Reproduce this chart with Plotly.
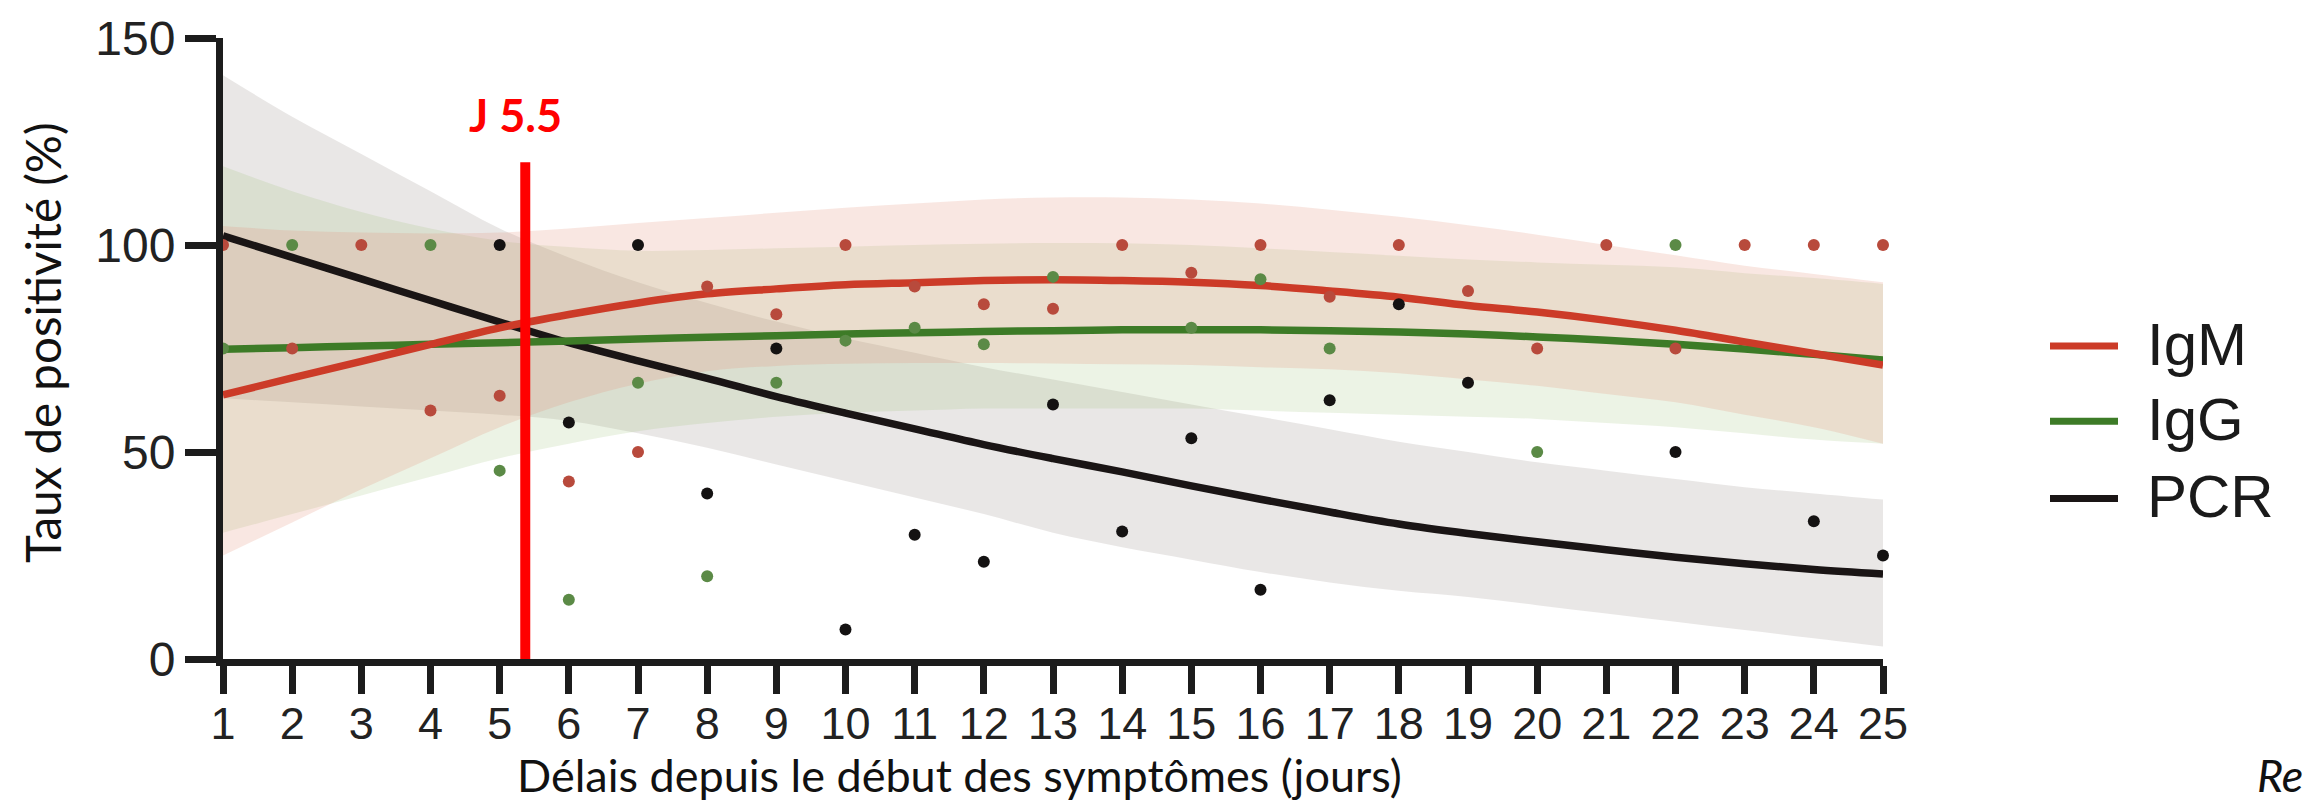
import plotly.graph_objects as go

# ---------------- data ----------------
days = list(range(1, 26))

# fitted curves read at each day
igm_fit = [63.8, 67.9, 71.9, 76.0, 80.0, 83.2, 86.0, 88.2, 89.4, 90.4, 90.9, 91.4, 91.6,
           91.4, 91.0, 90.2, 88.9, 87.4, 85.4, 83.8, 81.8, 79.4, 76.6, 73.8, 71.0]
igg_fit = [74.8, 75.2, 75.6, 76.0, 76.4, 76.8, 77.3, 77.7, 78.1, 78.5, 78.8, 79.1, 79.3,
           79.5, 79.5, 79.5, 79.3, 79.0, 78.5, 77.8, 77.0, 76.0, 74.9, 73.6, 72.2]
pcr_fit = [102.2, 97.0, 91.8, 86.6, 81.4, 76.4, 72.0, 67.8, 63.4, 59.4, 55.6, 51.8, 48.4,
           45.2, 41.8, 38.6, 35.5, 32.6, 30.3, 28.3, 26.4, 24.6, 23.0, 21.6, 20.5]

# confidence bands
igm_up = [104.6, 103.5, 103.0, 102.8, 103.0, 104.0, 105.3, 106.5, 107.8, 109.0, 110.0, 111.0, 111.5,
          111.5, 111.0, 110.0, 108.5, 106.8, 104.8, 102.5, 100.0, 97.5, 95.0, 93.0, 91.0]
igm_lo = [25.0, 33.0, 41.0, 48.5, 56.0, 62.0, 66.5, 69.5, 70.8, 71.3, 71.5, 71.5, 71.4,
          71.2, 71.0, 70.5, 70.0, 69.0, 67.5, 66.0, 64.0, 62.0, 59.0, 56.0, 52.0]
igg_up = [119.0, 113.0, 108.0, 104.0, 101.0, 99.5, 98.6, 98.8, 99.2, 99.6, 100.0, 100.3, 100.5,
          100.4, 100.0, 99.2, 98.3, 97.4, 96.5, 95.8, 95.2, 94.6, 93.2, 92.0, 90.6]
igg_lo = [30.5, 35.0, 39.5, 44.0, 48.5, 52.0, 55.0, 57.0, 58.5, 59.5, 60.0, 60.5, 60.5,
          60.5, 60.5, 60.0, 59.5, 59.0, 58.5, 58.0, 57.0, 56.0, 54.5, 53.0, 52.0]
pcr_up = [141.0, 131.0, 122.0, 113.0, 104.0, 97.0, 91.0, 86.0, 81.5, 77.5, 74.0, 70.5, 67.5,
          64.5, 61.5, 58.5, 55.5, 52.5, 50.0, 47.5, 45.5, 43.5, 41.5, 40.0, 38.5]
pcr_lo = [63.0, 62.0, 61.0, 60.0, 59.0, 57.5, 54.5, 51.0, 47.0, 43.0, 39.0, 35.0, 30.5,
          27.0, 24.0, 21.0, 18.5, 16.5, 15.0, 13.0, 11.0, 9.0, 7.0, 5.0, 3.0]

# observed points
igm_days = [1, 2, 3, 4, 5, 6, 7, 8, 9, 10, 11, 12, 13, 14, 15, 16, 17, 18, 19, 20, 21, 22, 23, 24, 25]
igm_vals = [100, 75, 100, 60, 63.6, 42.9, 50, 90, 83.3, 100, 90, 85.7, 84.6, 100, 93.3, 100,
            87.5, 100, 88.9, 75, 100, 75, 100, 100, 100]
igg_days = [1, 2, 4, 5, 6, 7, 8, 9, 10, 11, 12, 13, 15, 16, 17, 20, 22]
igg_vals = [75, 100, 100, 45.5, 14.3, 66.7, 20, 66.7, 76.9, 80, 76, 92.3, 80, 91.7, 75, 50, 100]
pcr_days = [5, 6, 7, 8, 9, 10, 11, 12, 13, 14, 15, 16, 17, 18, 19, 22, 24, 25]
pcr_vals = [100, 57.1, 100, 40, 75, 7.1, 30, 23.5, 61.5, 30.8, 53.3, 16.7, 62.5, 85.7, 66.7,
            50, 33.3, 25]

series_names = ["IgM", "IgG", "PCR"]
x_ticks = list(range(1, 26))
y_ticks = [0, 50, 100, 150]

marker_day = 5.37      # red vertical marker
marker_top = 120
marker_label = "J 5.5"

# ---------------- styles ----------------
C_LINE = {"IgM": "#cc3b28", "IgG": "#3d7b27", "PCR": "#1a1515"}
C_DOT = {"IgM": "#b84a3c", "IgG": "#5b8a46", "PCR": "#141212"}
C_BAND = {"IgM": "rgba(228,140,118,0.21)", "IgG": "rgba(150,188,110,0.18)",
          "PCR": "rgba(170,162,160,0.26)"}

fig = go.Figure()

bands = {"PCR": (pcr_lo, pcr_up), "IgG": (igg_lo, igg_up), "IgM": (igm_lo, igm_up)}
for name in ["PCR", "IgG", "IgM"]:
    lo, up = bands[name]
    fig.add_trace(go.Scatter(x=days, y=lo, mode="lines", line=dict(width=0, shape="spline"),
                             showlegend=False, hoverinfo="skip"))
    fig.add_trace(go.Scatter(x=days, y=up, mode="lines", line=dict(width=0, shape="spline"),
                             fill="tonexty", fillcolor=C_BAND[name], showlegend=False,
                             hoverinfo="skip"))

fits = {"IgM": igm_fit, "IgG": igg_fit, "PCR": pcr_fit}
for name in ["PCR", "IgG", "IgM"]:
    fig.add_trace(go.Scatter(x=days, y=fits[name], mode="lines", name=name,
                             line=dict(color=C_LINE[name], width=7.5, shape="spline"),
                             showlegend=False, cliponaxis=False))

pts = {"PCR": (pcr_days, pcr_vals), "IgG": (igg_days, igg_vals), "IgM": (igm_days, igm_vals)}
for name in ["PCR", "IgG", "IgM"]:
    dx, dy = pts[name]
    fig.add_trace(go.Scatter(x=dx, y=dy, mode="markers", name=name + " points",
                             marker=dict(color=C_DOT[name], size=12, line=dict(width=0)),
                             showlegend=False, cliponaxis=False))

# red marker line
fig.add_trace(go.Scatter(x=[marker_day, marker_day], y=[0, marker_top], mode="lines",
                         line=dict(color="#ff0000", width=10), showlegend=False,
                         cliponaxis=False, hoverinfo="skip"))

L, R, T, B = 223, 423, 32, 144
W, H = 2306, 803
PW, PH = W - L - R, H - T - B


def px_x(px):
    return (px - L) / PW


def px_y(py):
    return (H - B - py) / PH


annotations = [
    dict(x=5.23, y=131.5, xref="x", yref="y", text="<b>" + marker_label + "</b>",
         showarrow=False, font=dict(family="Lato", size=45, color="#ff0000")),
    dict(x=px_x(959), y=px_y(776), xref="paper", yref="paper",
         text="Délais depuis le début des symptômes (jours)", showarrow=False,
         font=dict(family="Lato", size=45, color="#111"), xanchor="center", yanchor="middle"),
    dict(x=px_x(42), y=px_y(340), xref="paper", yref="paper",
         text="Taux de positivité (%)", textangle=-90, showarrow=False,
         font=dict(family="Lato", size=47.5, color="#111"), xanchor="center", yanchor="middle"),
    dict(x=px_x(2305), y=px_y(776), xref="paper", yref="paper",
         text="<i>Re</i>", showarrow=False,
         font=dict(family="Lato", size=45, color="#111"), xanchor="right", yanchor="middle"),
]

shapes = []
leg_y = [343, 419, 497]
for name, py in zip(series_names, leg_y):
    shapes.append(dict(type="line", xref="paper", yref="paper",
                       x0=px_x(2050), x1=px_x(2118), y0=px_y(py), y1=px_y(py),
                       line=dict(color=C_LINE[name], width=7)))
    annotations.append(dict(x=px_x(2145), y=px_y(py - 2), xref="paper", yref="paper",
                            text=name, showarrow=False, xanchor="left", yanchor="middle",
                            font=dict(family="Liberation Sans", size=60, color="#1a1a1a")))

axis_common = dict(showgrid=False, zeroline=False, showline=True, linewidth=7,
                   linecolor="#1c1c1c", ticks="outside", tickwidth=7,
                   tickcolor="#1c1c1c")

fig.update_layout(
    width=W, height=H,
    margin=dict(l=L, r=R, t=T, b=B, pad=0),
    paper_bgcolor="white", plot_bgcolor="white",
    showlegend=False,
    annotations=annotations, shapes=shapes,
    xaxis=dict(range=[1, 25], tickvals=x_ticks, ticktext=[str(v) for v in x_ticks],
               ticklen=28, ticklabelstandoff=-9,
               tickfont=dict(family="Liberation Sans", size=45, color="#222"), **axis_common),
    yaxis=dict(range=[0, 150], tickvals=y_ticks, ticktext=[str(v) for v in y_ticks],
               ticklen=31,
               tickfont=dict(family="Liberation Sans", size=48, color="#222"), **axis_common),
)

fig.write_html("out.html")
